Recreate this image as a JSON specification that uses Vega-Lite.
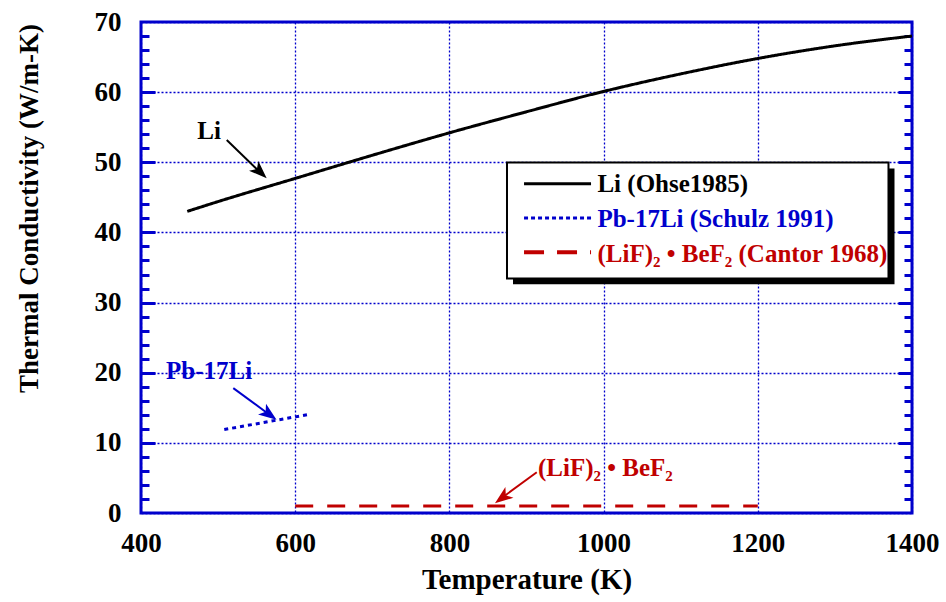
{
  "$schema": "https://vega.github.io/schema/vega-lite/v6.json",
  "width": 771,
  "height": 491,
  "autosize": {"type": "none"},
  "padding": {"left": 141, "top": 22, "right": 34, "bottom": 89},
  "background": "white",
  "config": {
    "view": {"stroke": "#0000cc", "strokeWidth": 3},
    "font": "Liberation Serif",
    "axis": {
      "labelFont": "Liberation Serif",
      "titleFont": "Liberation Serif",
      "labelFontWeight": "bold",
      "titleFontWeight": "bold",
      "labelColor": "black",
      "titleColor": "black",
      "labelFontSize": 27,
      "titleFontSize": 27,
      "domain": false,
      "gridColor": "#0000cc",
      "gridDash": [2, 2],
      "gridWidth": 1.3,
      "gridOpacity": 1,
      "tickColor": "#0000cc",
      "tickWidth": 3,
      "tickOpacity": 1
    }
  },
  "data": {
    "values": [
      {"series": "Li (Ohse1985)", "T": 460, "k": 43.0},
      {"series": "Li (Ohse1985)", "T": 500, "k": 44.4},
      {"series": "Li (Ohse1985)", "T": 600, "k": 47.7},
      {"series": "Li (Ohse1985)", "T": 700, "k": 51.0},
      {"series": "Li (Ohse1985)", "T": 800, "k": 54.2},
      {"series": "Li (Ohse1985)", "T": 900, "k": 57.2},
      {"series": "Li (Ohse1985)", "T": 1000, "k": 60.1},
      {"series": "Li (Ohse1985)", "T": 1100, "k": 62.6},
      {"series": "Li (Ohse1985)", "T": 1200, "k": 64.8},
      {"series": "Li (Ohse1985)", "T": 1300, "k": 66.6},
      {"series": "Li (Ohse1985)", "T": 1400, "k": 68.0},
      {"series": "Pb-17Li (Schulz 1991)", "T": 508, "k": 11.9},
      {"series": "Pb-17Li (Schulz 1991)", "T": 620, "k": 14.1},
      {"series": "(LiF)₂•BeF₂ (Cantor 1968)", "T": 600, "k": 1.0},
      {"series": "(LiF)₂•BeF₂ (Cantor 1968)", "T": 1200, "k": 1.0}
    ]
  },
  "resolve": {"axis": {"x": "independent", "y": "independent"}},
  "layer": [
    {
      "mark": {"type": "line", "interpolate": "monotone", "strokeCap": "butt"},
      "encoding": {
        "x": {
          "field": "T", "type": "quantitative",
          "scale": {"domain": [400, 1400], "nice": false, "zero": false},
          "axis": {
            "orient": "bottom", "values": [400, 600, 800, 1000, 1200, 1400],
            "format": "d", "ticks": false, "grid": true,
            "labelFlush": false, "labelOverlap": false, "labelPadding": 17,
            "title": "Temperature (K)", "titleFontSize": 29, "titlePadding": 9
          }
        },
        "y": {
          "field": "k", "type": "quantitative",
          "scale": {"domain": [0, 70], "nice": false, "zero": false},
          "axis": {
            "orient": "left", "values": [0, 10, 20, 30, 40, 50, 60, 70],
            "format": "d", "ticks": false, "grid": true,
            "labelFlush": false, "labelOverlap": false, "labelPadding": 20,
            "title": "Thermal Conductivity (W/m-K)",
            "titleX": -98, "titleY": 186, "titleAlign": "center", "titleAngle": -90, "titleBaseline": "bottom"
          }
        },
        "color": {
          "field": "series", "type": "nominal",
          "scale": {"domain": ["Li (Ohse1985)", "Pb-17Li (Schulz 1991)", "(LiF)₂•BeF₂ (Cantor 1968)"], "range": ["#000000", "#0000cc", "#c00000"]},
          "legend": null
        },
        "strokeDash": {
          "field": "series", "type": "nominal",
          "scale": {"domain": ["Li (Ohse1985)", "Pb-17Li (Schulz 1991)", "(LiF)₂•BeF₂ (Cantor 1968)"], "range": [[1, 0], [4, 4], [18, 14]]},
          "legend": null
        },
        "strokeWidth": {
          "field": "series", "type": "nominal",
          "scale": {"domain": ["Li (Ohse1985)", "Pb-17Li (Schulz 1991)", "(LiF)₂•BeF₂ (Cantor 1968)"], "range": [3, 3, 4]},
          "legend": null
        }
      }
    },
    {
      "data": {"values": [{}]},
      "mark": {"type": "rect", "color": "black"},
      "encoding": {
        "x": {"datum": 882.5, "type": "quantitative", "axis": null},
        "x2": {"datum": 1377.3},
        "y": {"datum": 49.1, "type": "quantitative",
              "axis": {"orient": "left", "values": [2, 4, 6, 8, 12, 14, 16, 18, 22, 24, 26, 28, 32, 34, 36, 38, 42, 44, 46, 48, 52, 54, 56, 58, 62, 64, 66, 68], "tickSize": -8, "labels": false, "grid": false, "title": null}},
        "y2": {"datum": 32.6}
      }
    },
    {
      "data": {"values": [{}]},
      "mark": {"type": "rect", "fill": "white", "stroke": "black", "strokeWidth": 2},
      "encoding": {
        "x": {"datum": 874.7, "type": "quantitative", "axis": null},
        "x2": {"datum": 1369.5},
        "y": {"datum": 49.97, "type": "quantitative",
              "axis": {"orient": "left", "values": [10, 20, 30, 40, 50, 60], "tickSize": -14, "labels": false, "grid": false, "title": null}},
        "y2": {"datum": 33.43}
      }
    },
    {
      "data": {"values": [{}]},
      "mark": {"type": "rule", "color": "black", "strokeWidth": 3},
      "encoding": {
        "x": {"datum": 896.8, "type": "quantitative", "axis": null},
        "x2": {"datum": 983.7},
        "y": {"datum": 46.95, "type": "quantitative",
              "axis": {"orient": "right", "values": [2, 4, 6, 8, 12, 14, 16, 18, 22, 24, 26, 28, 32, 34, 36, 38, 42, 44, 46, 48, 52, 54, 56, 58, 62, 64, 66, 68], "tickSize": -8, "labels": false, "grid": false, "title": null}}
      }
    },
    {
      "data": {"values": [{}]},
      "mark": {"type": "rule", "color": "#0000cc", "strokeWidth": 3, "strokeDash": [4, 3]},
      "encoding": {
        "x": {"datum": 896.8, "type": "quantitative", "axis": null},
        "x2": {"datum": 983.7},
        "y": {"datum": 42.06, "type": "quantitative",
              "axis": {"orient": "right", "values": [10, 20, 30, 40, 50, 60], "tickSize": -14, "labels": false, "grid": false, "title": null}}
      }
    },
    {
      "data": {"values": [{}]},
      "mark": {"type": "rule", "color": "#c00000", "strokeWidth": 4, "strokeDash": [20, 13]},
      "encoding": {
        "x": {"datum": 896.8, "type": "quantitative", "axis": null},
        "x2": {"datum": 983.7},
        "y": {"datum": 37.17, "type": "quantitative", "axis": null}
      }
    },
    {
      "data": {"values": [{}]},
      "mark": {"type": "text", "text": "Li (Ohse1985)", "color": "black", "fontSize": 25, "fontWeight": "bold", "font": "Liberation Serif", "align": "left", "baseline": "alphabetic"},
      "encoding": {
        "x": {"datum": 992, "type": "quantitative", "axis": null},
        "y": {"datum": 45.81, "type": "quantitative", "axis": null}
      }
    },
    {
      "data": {"values": [{}]},
      "mark": {"type": "text", "text": "Pb-17Li (Schulz 1991)", "color": "#0000cc", "fontSize": 25, "fontWeight": "bold", "font": "Liberation Serif", "align": "left", "baseline": "alphabetic"},
      "encoding": {
        "x": {"datum": 992, "type": "quantitative", "axis": null},
        "y": {"datum": 40.73, "type": "quantitative", "axis": null}
      }
    },
    {
      "data": {"values": [{}]},
      "mark": {"type": "text", "text": "(LiF)₂ • BeF₂  (Cantor 1968)", "color": "#c00000", "fontSize": 25, "fontWeight": "bold", "font": "Liberation Serif", "align": "left", "baseline": "alphabetic"},
      "encoding": {
        "x": {"datum": 992, "type": "quantitative", "axis": null},
        "y": {"datum": 35.83, "type": "quantitative", "axis": null}
      }
    },
    {
      "data": {"values": [{}]},
      "mark": {"type": "text", "text": "Li", "color": "black", "fontSize": 25, "fontWeight": "bold", "font": "Liberation Serif", "align": "center", "baseline": "alphabetic"},
      "encoding": {
        "x": {"datum": 488.4, "type": "quantitative", "axis": null},
        "y": {"datum": 53.32, "type": "quantitative", "axis": null}
      }
    },
    {
      "data": {"values": [{}]},
      "mark": {"type": "rule", "color": "black", "strokeWidth": 2},
      "encoding": {
        "x": {"datum": 511.2, "type": "quantitative", "axis": null},
        "x2": {"datum": 556.0},
        "y": {"datum": 53.18, "type": "quantitative", "axis": null},
        "y2": {"datum": 48.4}
      }
    },
    {
      "data": {"values": [{}]},
      "mark": {"type": "point", "shape": "M 0 0 L -2 -0.75 L -1.5 0 L -2 0.75 Z", "filled": true, "color": "black", "opacity": 1, "size": 324, "angle": 43.8},
      "encoding": {
        "x": {"datum": 563.0, "type": "quantitative", "axis": null},
        "y": {"datum": 47.72, "type": "quantitative", "axis": null}
      }
    },
    {
      "data": {"values": [{}]},
      "mark": {"type": "text", "text": "Pb-17Li", "color": "#0000cc", "fontSize": 25, "fontWeight": "bold", "font": "Liberation Serif", "align": "center", "baseline": "alphabetic"},
      "encoding": {
        "x": {"datum": 488.4, "type": "quantitative", "axis": null},
        "y": {"datum": 19.06, "type": "quantitative", "axis": null}
      }
    },
    {
      "data": {"values": [{}]},
      "mark": {"type": "rule", "color": "#0000cc", "strokeWidth": 2},
      "encoding": {
        "x": {"datum": 519.7, "type": "quantitative", "axis": null},
        "x2": {"datum": 568.0},
        "y": {"datum": 17.8, "type": "quantitative", "axis": null},
        "y2": {"datum": 13.9}
      }
    },
    {
      "data": {"values": [{}]},
      "mark": {"type": "point", "shape": "M 0 0 L -2 -0.75 L -1.5 0 L -2 0.75 Z", "filled": true, "color": "#0000cc", "opacity": 1, "size": 324, "angle": 36.2},
      "encoding": {
        "x": {"datum": 575.8, "type": "quantitative", "axis": null},
        "y": {"datum": 13.3, "type": "quantitative", "axis": null}
      }
    },
    {
      "data": {"values": [{}]},
      "mark": {"type": "text", "text": "(LiF)₂ • BeF₂", "color": "#c00000", "fontSize": 25, "fontWeight": "bold", "font": "Liberation Serif", "align": "left", "baseline": "alphabetic"},
      "encoding": {
        "x": {"datum": 914.9, "type": "quantitative", "axis": null},
        "y": {"datum": 5.28, "type": "quantitative", "axis": null}
      }
    },
    {
      "data": {"values": [{}]},
      "mark": {"type": "rule", "color": "#c00000", "strokeWidth": 2},
      "encoding": {
        "x": {"datum": 913.3, "type": "quantitative", "axis": null},
        "x2": {"datum": 866.0},
        "y": {"datum": 5.8, "type": "quantitative", "axis": null},
        "y2": {"datum": 2.0}
      }
    },
    {
      "data": {"values": [{}]},
      "mark": {"type": "point", "shape": "M 0 0 L -2 -0.75 L -1.5 0 L -2 0.75 Z", "filled": true, "color": "#c00000", "opacity": 1, "size": 324, "angle": 143.4},
      "encoding": {
        "x": {"datum": 859.1, "type": "quantitative", "axis": null},
        "y": {"datum": 1.4, "type": "quantitative", "axis": null}
      }
    }
  ]
}
